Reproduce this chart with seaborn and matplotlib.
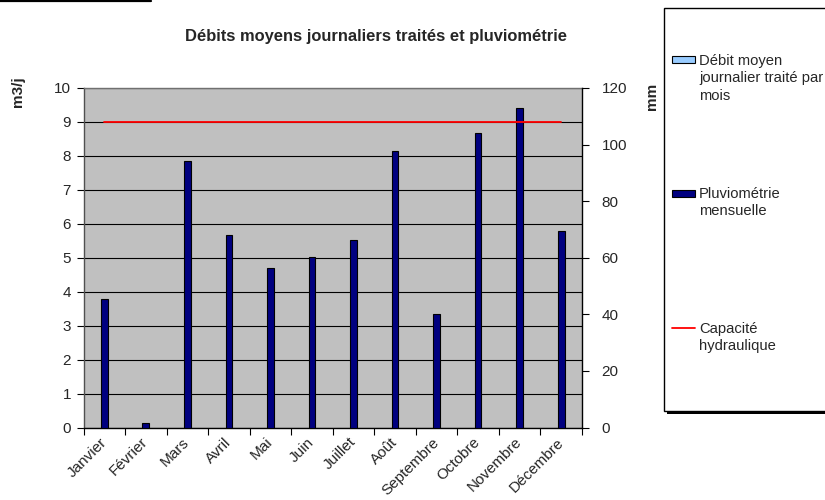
import matplotlib
matplotlib.use("Agg")
import matplotlib.pyplot as plt
import seaborn as sns
import pandas as pd
import numpy as np
from matplotlib.patches import Rectangle
from matplotlib.lines import Line2D

# ---- data ----
months = ["Janvier", "Février", "Mars", "Avril", "Mai", "Juin", "Juillet",
          "Août", "Septembre", "Octobre", "Novembre", "Décembre"]
pluvio_mm = [45.5, 1.6, 94.1, 68.1, 56.5, 60.2, 66.2, 97.8, 40.2, 104.1, 113.1, 69.3]
capacite_m3j = [9, 9, 9, 9, 9, 9, 9, 9, 9, 9, 9, 9]
left_ticks = [0, 1, 2, 3, 4, 5, 6, 7, 8, 9, 10]
right_ticks = [0, 20, 40, 60, 80, 100, 120]
title = "Débits moyens journaliers traités et pluviométrie"
legend_labels = ["Débit moyen\njournalier traité par\nmois",
                 "Pluviométrie\nmensuelle",
                 "Capacité\nhydraulique"]

sns.set_theme(style="white")
plt.rcParams["font.family"] = ["Liberation Sans", "DejaVu Sans"]

W, H = 825, 500
fig = plt.figure(figsize=(W / 100, H / 100), dpi=100)

def fx(px):
    return px / W

def fy(py):
    return 1 - py / H

left, right, top, bottom = 83.5, 582.0, 88.0, 427.5
rect = [fx(left), fy(bottom), fx(right - left), (bottom - top) / H]

df = pd.DataFrame({"Mois": months, "Pluvio": pluvio_mm, "Cap": capacite_m3j})

ax = fig.add_axes(rect)
ax.set_facecolor("#C0C0C0")
ax.set_ylim(0, 10)
ax.set_yticks(left_ticks)
ax.grid(axis="y", color="black", lw=0.8)
ax.set_axisbelow(True)

ax2 = ax.twinx()
sns.barplot(data=df, x="Mois", y="Pluvio", ax=ax2, color="#000080",
            width=0.16, edgecolor="black", linewidth=0.8, saturation=1)
ax2.set_ylim(0, 120)
ax2.set_yticks(right_ticks)
ax2.set_ylabel("")
ax2.set_xlabel("")

ax3 = fig.add_axes(rect, sharex=ax, sharey=ax)
sns.lineplot(data=df, x="Mois", y="Cap", ax=ax3, color="#FF0000", lw=1.3)
ax3.axis("off")
ax3.patch.set_visible(False)

TICK_FS = 11
ax.set_xlim(-0.5, 11.5)
ax.set_xticks(np.arange(len(months)))
ax.set_xticklabels(months, rotation=45, ha="right", va="center",
                   rotation_mode="anchor", fontsize=TICK_FS)
ax.set_xticks(np.arange(len(months) + 1) - 0.5, minor=True)
ax.tick_params(axis="x", which="major", length=0, pad=9)
ax.tick_params(axis="x", which="minor", length=5, width=0.8, color="black", direction="out", bottom=True)
ax.tick_params(axis="y", which="major", length=5, width=0.8, color="black", direction="out",
               labelsize=TICK_FS, left=True, pad=4)
ax2.tick_params(axis="y", which="major", length=5, width=0.8, color="black", direction="out",
                labelsize=TICK_FS, right=True, pad=9)
ax.set_xlabel("")
ax.set_ylabel("")

for s in ["left", "top", "bottom", "right"]:
    ax.spines[s].set_linewidth(1.0)
ax.spines["left"].set_color("#505050")
ax.spines["top"].set_color("#707070")
ax.spines["bottom"].set_color("black")
ax.spines["right"].set_visible(False)
for s in ["left", "top", "bottom"]:
    ax2.spines[s].set_visible(False)
ax2.spines["right"].set_color("black")
ax2.spines["right"].set_linewidth(1.0)

# titles / axis labels
fig.text(fx(376), fy(37), title, ha="center", va="center", fontsize=11.9, fontweight="bold")
fig.text(fx(18), fy(92), "m3/j", ha="center", va="center", rotation=90, fontsize=11, fontweight="bold")
fig.text(fx(652), fy(96), "mm", ha="center", va="center", rotation=90, fontsize=11, fontweight="bold")

# top-left rule
fig.add_artist(Line2D([0, fx(151)], [fy(1), fy(1)], color="black", lw=1.6, transform=fig.transFigure))

# legend box with shadow
bx0, by0, bx1, by1 = 664, 8, 830, 411
fig.add_artist(Rectangle((fx(bx0 + 3), fy(by1 + 3)), fx(bx1 - bx0), (by1 - by0) / H,
                         transform=fig.transFigure, facecolor="black", edgecolor="none", zorder=1))
fig.add_artist(Rectangle((fx(bx0), fy(by1)), fx(bx1 - bx0), (by1 - by0) / H,
                         transform=fig.transFigure, facecolor="white", edgecolor="black", lw=1.0, zorder=2))

# legend entries
fig.add_artist(Rectangle((fx(672), fy(63)), fx(23), 7 / H, transform=fig.transFigure,
                         facecolor="#99CCFF", edgecolor="black", lw=0.8, zorder=3))
fig.add_artist(Rectangle((fx(672), fy(196.5)), fx(23), 7 / H, transform=fig.transFigure,
                         facecolor="#000080", edgecolor="black", lw=0.8, zorder=3))
fig.add_artist(Line2D([fx(672), fx(695)], [fy(328), fy(328)], color="#FF0000", lw=1.3,
                      transform=fig.transFigure, zorder=3))
LINE_H = 17.3
for lab, yb in zip(legend_labels, [65, 198, 333]):
    for i, line in enumerate(lab.split("\n")):
        t = fig.text(fx(699), fy(yb + i * LINE_H), line, ha="left", va="baseline", fontsize=10.6)
        t.set_zorder(4)

fig.savefig("out.png", dpi=100)
